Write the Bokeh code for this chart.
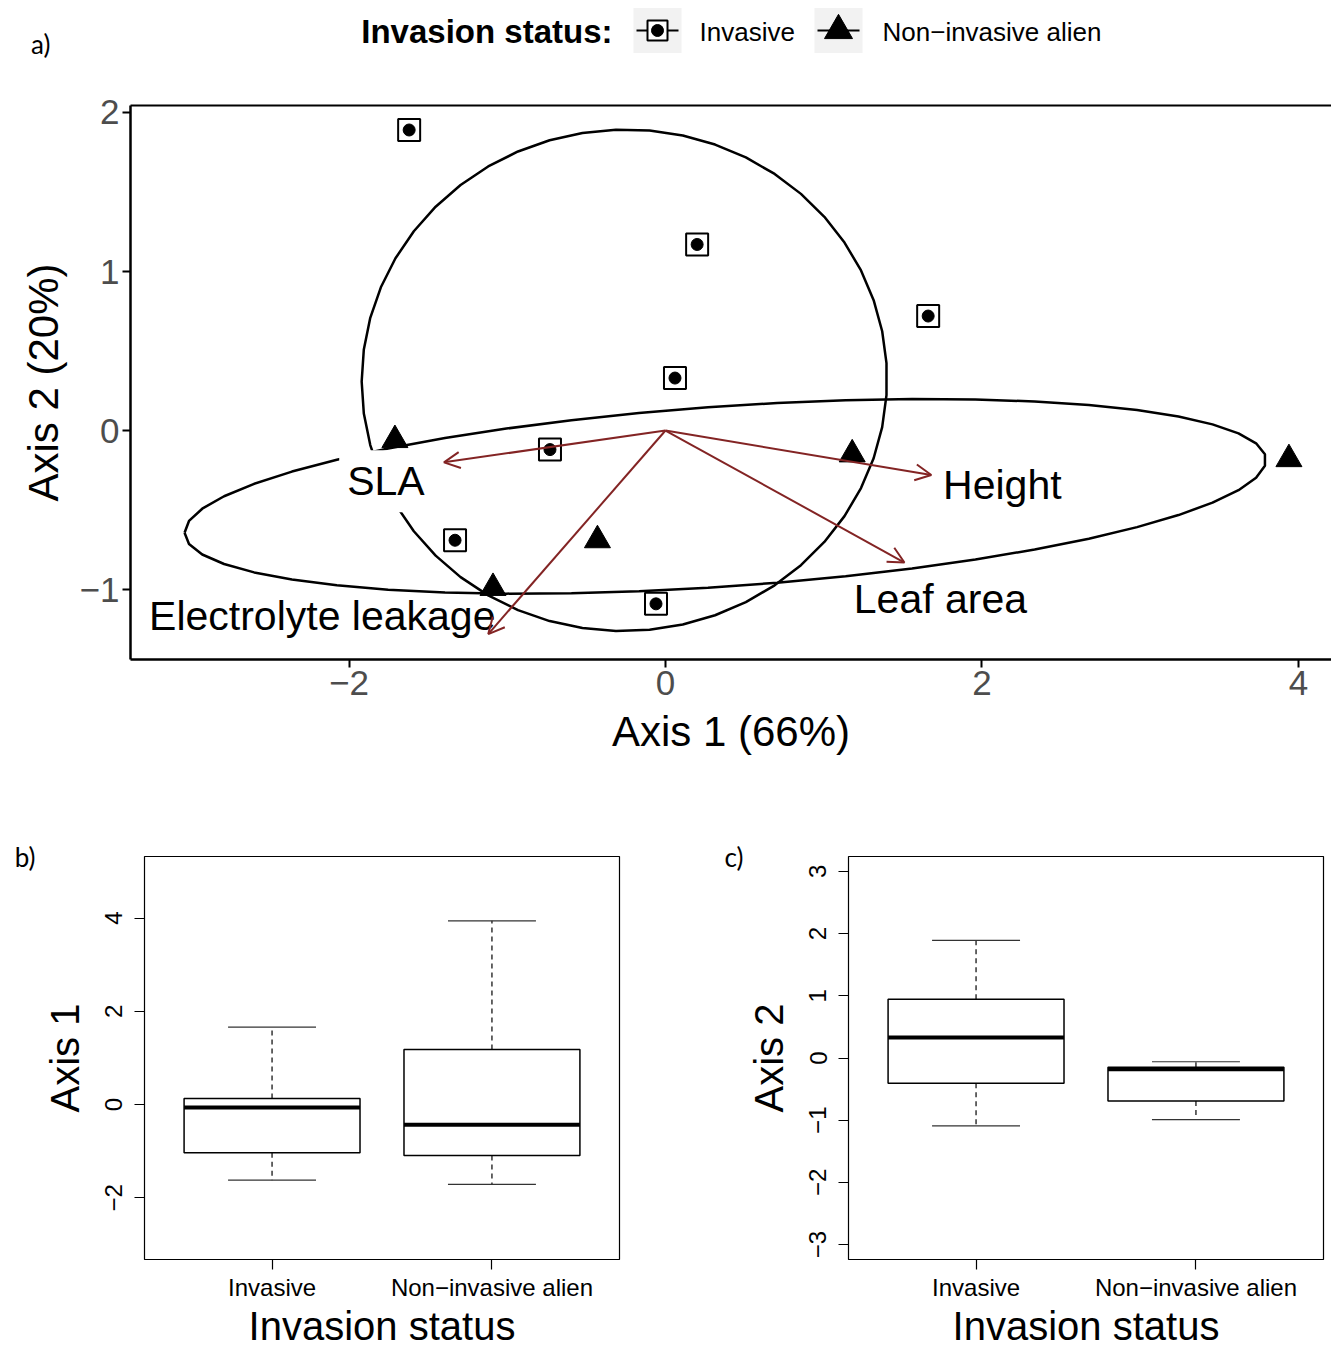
import numpy as np
from bokeh.plotting import figure
from bokeh.models import Range1d, FixedTicker, LinearAxis, Arrow, OpenHead, ColumnDataSource
from bokeh.layouts import column, row
from bokeh.embed import file_html
from bokeh.resources import INLINE
from bokeh.core.properties import value

# ------------------------------------------------------------------ data
status = ["Invasive", "Non\u2212invasive alien"]
inv_axis1 = [-1.62, 0.20, 1.66, 0.06, -0.73, -1.33, -0.06]
inv_axis2 = [1.89, 1.17, 0.72, 0.33, -0.12, -0.69, -1.09]
non_axis1 = [-1.71, 1.18, 3.94, -0.43, -1.09]
non_axis2 = [-0.06, -0.15, -0.18, -0.69, -0.99]
traits = ["SLA", "Height", "Leaf area", "Electrolyte leakage"]
load_axis1 = [-1.40, 1.68, 1.51, -1.12]
load_axis2 = [-0.20, -0.28, -0.83, -1.28]
axis_pct = [66, 20]
ticks_a_x = [-2, 0, 2, 4]
ticks_a_y = [-1, 0, 1, 2]
ticks_b_y = [-2, 0, 2, 4]
ticks_c_y = [-3, -2, -1, 0, 1, 2, 3]
ylim_b = [-3, 5]
ylim_c = [-3, 3]
panel_letters = ["a)", "b)", "c)"]

# ------------------------------------------------------------------ style
SANS = "Liberation Sans"
PANEL_FONT = "Lato"
ARROW_COLOR = "#832424"
MINUS = "\u2212"
W = 1331
ELLIPSE_PROB = 0.68


def minus_labels(ticks):
    return {t: (MINUS + str(abs(t)) if t < 0 else str(t)) for t in ticks}


def ellipse_path(xs, ys, prob=ELLIPSE_PROB, n=50):
    X = np.column_stack([xs, ys])
    mu = X.mean(axis=0)
    sigma = np.cov(X, rowvar=False)
    L = np.linalg.cholesky(sigma)
    ed = np.sqrt(-2.0 * np.log(1.0 - prob))  # sqrt(qchisq(prob, 2))
    theta = np.linspace(-np.pi, np.pi, n)
    circ = np.column_stack([np.cos(theta), np.sin(theta)])
    pts = circ @ L.T * ed + mu
    return pts[:, 0], pts[:, 1]


def fivenum(v):
    x = np.sort(np.asarray(v, float))
    n = len(x)
    n4 = np.floor((n + 3) / 2) / 2
    d = np.array([1, n4, (n + 1) / 2, n + 1 - n4, n]) - 1
    return 0.5 * (x[np.floor(d).astype(int)] + x[np.ceil(d).astype(int)])


def bare(p):
    p.outline_line_color = None
    p.background_fill_color = "white"
    p.border_fill_color = "white"


def letter_axis(tick, letter, standoff):
    return LinearAxis(ticker=FixedTicker(ticks=[tick]), major_label_overrides={tick: letter},
                      axis_line_color=None, major_tick_line_color=None, minor_tick_line_color=None,
                      major_tick_out=0, major_tick_in=0, major_label_standoff=standoff,
                      major_label_text_font=PANEL_FONT, major_label_text_font_size="26px",
                      major_label_text_color="black")


# ------------------------------------------------------------------ header (legend + "a)")
hdr = figure(width=W, height=60, x_range=Range1d(130, W), y_range=Range1d(60, 0),
             x_axis_type=None, y_axis_type=None, output_backend="svg",
             toolbar_location=None, min_border_left=130, min_border_right=0,
             min_border_top=0, min_border_bottom=0)
bare(hdr)
hdr.grid.visible = False
hdr.add_layout(letter_axis(43, panel_letters[0], 80), "left")
hdr.text(x=[612], y=[31], text=["Invasion status:"], text_font=value(SANS),
         text_font_size="33px", text_font_style="bold", text_align="right",
         text_baseline="middle", text_color="black")
key_x = [657, 838]
hdr.rect(x=key_x, y=[30, 30], width=48, height=45, fill_color="#F2F2F2", line_color=None)
hdr.segment(x0=[k - 21 for k in key_x], y0=[30, 30], x1=[k + 21 for k in key_x], y1=[30, 30],
            line_color="black", line_width=2)
hdr.scatter(x=[key_x[0]], y=[30], marker="square", size=20, fill_color="white",
            line_color="black", line_width=2)
hdr.scatter(x=[key_x[0]], y=[30], marker="circle", size=12, color="black")
hdr.scatter(x=[key_x[1]], y=[30], marker="triangle", size=28, color="black")
hdr.text(x=[699, 882], y=[31, 31], text=status, text_font=value(SANS),
         text_font_size="26px", text_baseline="middle", text_color="black")

# ------------------------------------------------------------------ panel a (biplot)
pa = figure(width=W, height=730, x_range=Range1d(-3.381, 4.209), y_range=Range1d(-1.440, 2.044),
            output_backend="svg", toolbar_location=None,
            min_border_left=130, min_border_right=0, min_border_top=45, min_border_bottom=131)
bare(pa)
pa.grid.visible = False

for ax, ticks, lab in [(pa.below[0], ticks_a_x, "Axis 1 (%d%%)" % axis_pct[0]),
                       (pa.left[0], ticks_a_y, "Axis 2 (%d%%)" % axis_pct[1])]:
    ax.ticker = FixedTicker(ticks=ticks)
    ax.major_label_overrides = minus_labels(ticks)
    ax.axis_line_color = "black"
    ax.axis_line_width = 2.5
    ax.major_tick_line_color = "black"
    ax.major_tick_line_width = 2
    ax.major_tick_out = 8
    ax.major_tick_in = 0
    ax.minor_tick_line_color = None
    ax.major_label_text_font = SANS
    ax.major_label_text_font_size = "35px"
    ax.major_label_text_color = "#4D4D4D"
    ax.major_label_standoff = 3
    ax.axis_label = lab
    ax.axis_label_text_font = SANS
    ax.axis_label_text_font_size = "42px"
    ax.axis_label_text_font_style = "normal"
    ax.axis_label_text_color = "black"
    ax.axis_label_standoff = 10

top_axis = LinearAxis(ticker=FixedTicker(ticks=[]), axis_line_color="black", axis_line_width=2,
                      major_tick_line_color=None, minor_tick_line_color=None,
                      major_label_text_font_size="0px")
pa.add_layout(top_axis, "above")

# loading arrows (drawn first, under the rest)
arrow_src = ColumnDataSource(dict(x0=[0.0] * len(traits), y0=[0.0] * len(traits),
                                  x1=load_axis1, y1=load_axis2))
arrows = Arrow(end=OpenHead(size=16, line_color=ARROW_COLOR, line_width=2),
               x_start="x0", y_start="y0", x_end="x1", y_end="y1", source=arrow_src,
               line_color=ARROW_COLOR, line_width=2, level="glyph")
pa.add_layout(arrows)

# points
pa.scatter(inv_axis1, inv_axis2, marker="square", size=22, fill_color=None,
           line_color="black", line_width=2)
pa.scatter(inv_axis1, inv_axis2, marker="circle", size=12, color="black")
pa.scatter(non_axis1, non_axis2, marker="triangle", size=26, color="black")

# group ellipses
for xs, ys in [(inv_axis1, inv_axis2), (non_axis1, non_axis2)]:
    ex, ey = ellipse_path(xs, ys)
    pa.line(ex, ey, line_color="black", line_width=2.5)

# variable labels (pixel offsets from the arrow tips)
lab_dx = [-58, 71, 36, -166]
lab_dy = [19, 10, 36, -18]
pa.text(x=load_axis1[:1], y=load_axis2[:1], text=traits[:1], x_offset=lab_dx[:1], y_offset=lab_dy[:1],
        text_font=value(SANS), text_font_size="41px", text_align="center",
        text_baseline="alphabetic", text_color="black",
        background_fill_color="white", padding=8)
pa.text(x=load_axis1[1:], y=load_axis2[1:], text=traits[1:], x_offset=lab_dx[1:], y_offset=lab_dy[1:],
        text_font=value(SANS), text_font_size="41px", text_align="center",
        text_baseline="alphabetic", text_color="black")


# ------------------------------------------------------------------ panels b, c (boxplots)
ROW_H = 560


def box_panel(groups, ylim, yticks, ylabel, letter, width, left_b, right_b, letter_standoff):
    lo, hi = ylim
    ext = 0.04 * (hi - lo)
    y0, y1 = lo - ext, hi + ext
    p = figure(width=width, height=ROW_H, x_range=Range1d(0.42, 2.58),
               y_range=Range1d(y0, y1), output_backend="svg",
               toolbar_location=None, min_border_left=left_b, min_border_right=right_b,
               min_border_top=66, min_border_bottom=60)
    p.background_fill_color = "white"
    p.border_fill_color = "white"
    p.grid.visible = False
    p.outline_line_color = "black"
    p.outline_line_width = 1.2

    for i, vals in enumerate(groups, start=1):
        v = np.asarray(vals, float)
        q = fivenum(v)
        iqr = q[3] - q[1]
        wlo = v[v >= q[1] - 1.5 * iqr].min()
        whi = v[v <= q[3] + 1.5 * iqr].max()
        p.segment(x0=[i, i], y0=[q[3], q[1]], x1=[i, i], y1=[whi, wlo],
                  line_color="black", line_width=1.2, line_dash="5 4")
        p.segment(x0=[i - 0.2, i - 0.2], y0=[whi, wlo], x1=[i + 0.2, i + 0.2], y1=[whi, wlo],
                  line_color="#333333", line_width=1.2)
        p.quad(left=[i - 0.4], right=[i + 0.4], bottom=[q[1]], top=[q[3]],
               fill_color="white", line_color="black", line_width=1.5)
        p.segment(x0=[i - 0.4], y0=[q[2]], x1=[i + 0.4], y1=[q[2]],
                  line_color="black", line_width=4)

    xa = p.xaxis[0]
    xa.ticker = FixedTicker(ticks=[1, 2])
    xa.major_label_overrides = {1: status[0], 2: status[1]}
    xa.major_label_standoff = 4
    xa.axis_label = "Invasion status"
    xa.axis_label_standoff = 0
    ya = p.yaxis[0]
    ya.ticker = FixedTicker(ticks=yticks)
    ya.major_label_overrides = minus_labels(yticks)
    ya.major_label_orientation = "vertical"
    ya.major_label_standoff = 12
    ya.axis_label = ylabel
    ya.axis_label_standoff = 16
    for ax in (xa, ya):
        ax.axis_line_color = None
        ax.major_tick_line_color = "black"
        ax.major_tick_line_width = 1.2
        ax.major_tick_out = 10
        ax.major_tick_in = 0
        ax.minor_tick_line_color = None
        ax.major_label_text_font = SANS
        ax.major_label_text_font_size = "24px"
        ax.major_label_text_color = "black"
        ax.axis_label_text_font = SANS
        ax.axis_label_text_font_size = "40px"
        ax.axis_label_text_font_style = "normal"
        ax.axis_label_text_color = "black"

    p.add_layout(letter_axis(y1 - 1e-9, letter, letter_standoff), "left")
    return p


pb = box_panel([inv_axis1, non_axis1], ylim_b, ticks_b_y, "Axis 1", panel_letters[1],
               700, 144, 81, 4)
pc = box_panel([inv_axis2, non_axis2], ylim_c, ticks_c_y, "Axis 2", panel_letters[2],
               631, 148, 8, 0)

layout = column(hdr, pa, row(pb, pc))
open("out.html", "w").write(file_html(layout, INLINE))
